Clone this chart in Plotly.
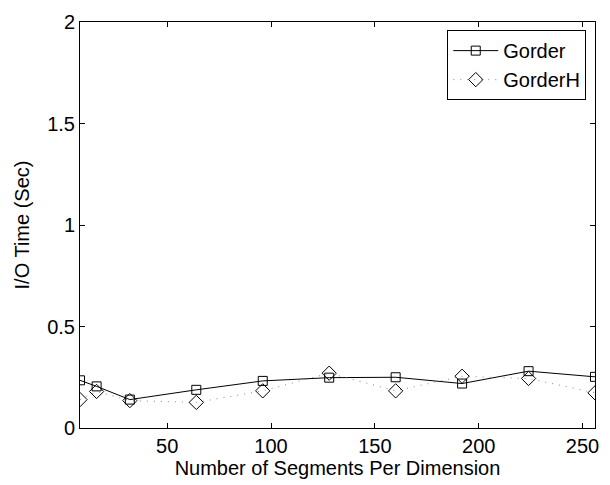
import plotly.graph_objects as go

# Segments per dimension and measured I/O times
segments = [8, 16, 32, 64, 96, 128, 160, 192, 224, 256]
gorder_io = [0.235, 0.205, 0.14, 0.188, 0.232, 0.248, 0.25, 0.219, 0.28, 0.252]
gorderh_io = [0.14, 0.18, 0.135, 0.126, 0.183, 0.27, 0.183, 0.255, 0.244, 0.173]

x_ticks = [50, 100, 150, 200, 250]
y_ticks = [0, 0.5, 1, 1.5, 2]
y_tick_text = ["0", "0.5", "1", "1.5", "2"]

font_family = "Liberation Sans, Arial, sans-serif"

fig = go.Figure()
fig.add_trace(go.Scatter(
    x=segments, y=gorder_io, name="Gorder", mode="lines+markers",
    line=dict(color="black", width=1),
    marker=dict(symbol="square-open", size=9, color="black", line=dict(width=1)),
))
fig.add_trace(go.Scatter(
    x=segments, y=gorderh_io, name="GorderH", mode="lines+markers",
    line=dict(color="#888888", width=1, dash="1px,6px"),
    marker=dict(symbol="diamond-open", size=11, color="black", line=dict(width=1)),
))

axis_common = dict(
    showline=True, linecolor="black", linewidth=1, mirror="ticks",
    ticks="inside", ticklen=5, tickcolor="black", showgrid=False, zeroline=False,
    tickfont=dict(family=font_family, size=20, color="black"),
)

fig.update_layout(
    width=610, height=485,
    margin=dict(l=80, r=11, t=20, b=57),
    paper_bgcolor="white", plot_bgcolor="white",
    font=dict(family=font_family, size=20, color="black"),
    xaxis=dict(range=[8, 256], tickvals=x_ticks,
               title=dict(text="Number of Segments Per Dimension", standoff=0,
                          font=dict(size=20)),
               **axis_common),
    yaxis=dict(range=[0, 2], tickvals=y_ticks, ticktext=y_tick_text,
               title=dict(text="I/O Time (Sec)", standoff=12, font=dict(size=20)),
               **axis_common),
    legend=dict(x=0.983, y=0.98, xanchor="right", yanchor="top",
                bordercolor="black", borderwidth=1, bgcolor="white",
                font=dict(size=20), tracegroupgap=0, itemwidth=45),
    showlegend=True,
)

fig.write_html("out.html")
